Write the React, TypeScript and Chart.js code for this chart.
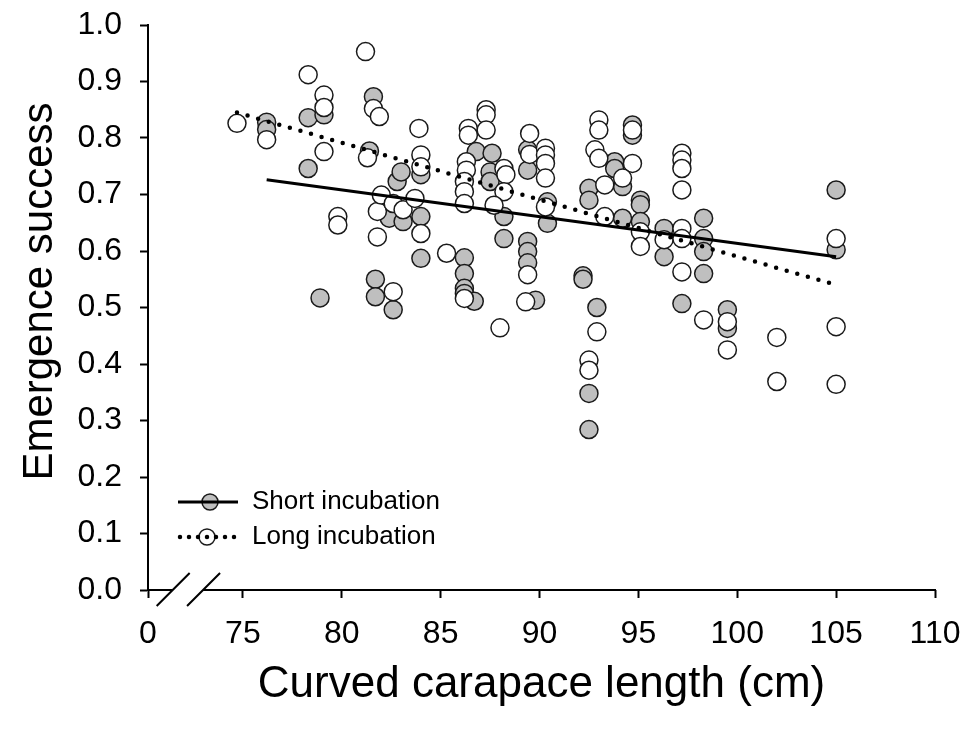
import React, { useEffect, useRef } from "react";
import { Chart, registerables } from "chart.js";

Chart.register(...registerables);

// ---- data ----
const shortLength = [
  76.2, 76.2, 78.3, 78.3, 79.1, 78.9, 81.6, 81.4, 81.7, 81.7, 82.4, 82.6, 82.8, 83.0, 83.1, 84.0,
  84.0, 84.0, 86.2, 86.2, 86.2, 86.2, 86.7, 86.8, 87.6, 87.5, 87.5, 88.2, 88.2, 89.4, 89.4, 89.4,
  89.4, 89.4, 89.8, 90.4, 90.4, 92.2, 92.2, 92.9, 92.5, 92.5, 92.5, 92.5, 93.8, 93.8, 94.2, 94.2,
  94.7, 94.7, 95.1, 95.1, 95.1, 96.3, 96.3, 97.2, 98.3, 98.3, 98.3, 98.3, 99.5, 99.5, 105.0, 105.0,
];
const shortSuccess = [
  0.828, 0.815, 0.836, 0.746, 0.841, 0.517, 0.873, 0.777, 0.55, 0.519, 0.658, 0.496, 0.723, 0.74, 0.652, 0.661,
  0.735, 0.587, 0.588, 0.56, 0.534, 0.525, 0.511, 0.776, 0.773, 0.74, 0.723, 0.661, 0.622, 0.779, 0.743, 0.617,
  0.599, 0.579, 0.513, 0.687, 0.649, 0.556, 0.55, 0.5, 0.348, 0.284, 0.711, 0.69, 0.758, 0.746, 0.714, 0.658,
  0.823, 0.805, 0.69, 0.682, 0.652, 0.64, 0.59, 0.507, 0.658, 0.622, 0.599, 0.56, 0.496, 0.463, 0.708, 0.602,
];
const longLength = [
  74.7, 76.2, 78.3, 79.1, 79.1, 79.1, 79.8, 79.8, 81.2, 81.3, 81.6, 81.9, 81.8, 81.8, 82.0, 82.6,
  83.1, 83.7, 82.6, 83.9, 84.0, 84.0, 84.0, 85.3, 86.4, 86.4, 86.3, 86.3, 86.2, 86.2, 86.2, 86.2,
  87.3, 87.3, 87.3, 88.2, 88.3, 88.2, 87.7, 88.0, 89.5, 89.5, 89.4, 89.3, 90.3, 90.3, 90.3, 90.3,
  90.3, 93.0, 93.0, 92.8, 93.0, 94.7, 94.2, 93.3, 93.3, 94.7, 95.1, 95.1, 92.9, 92.5, 92.5, 96.3,
  97.2, 97.2, 97.2, 97.2, 97.2, 97.2, 97.2, 98.3, 99.5, 99.5, 102.0, 102.0, 105.0, 105.0, 105.0,
];
const longSuccess = [
  0.826, 0.797, 0.912, 0.876, 0.854, 0.776, 0.661, 0.646, 0.953, 0.765, 0.852, 0.838, 0.67, 0.625, 0.699, 0.684,
  0.673, 0.693, 0.528, 0.817, 0.77, 0.749, 0.631, 0.596, 0.817, 0.805, 0.758, 0.743, 0.723, 0.705, 0.684, 0.516,
  0.85, 0.841, 0.814, 0.746, 0.735, 0.705, 0.681, 0.464, 0.808, 0.771, 0.558, 0.51, 0.782, 0.77, 0.755, 0.729,
  0.678, 0.832, 0.814, 0.779, 0.764, 0.755, 0.729, 0.717, 0.661, 0.814, 0.634, 0.608, 0.457, 0.407, 0.389, 0.62,
  0.773, 0.761, 0.746, 0.708, 0.64, 0.622, 0.563, 0.478, 0.475, 0.425, 0.447, 0.369, 0.622, 0.466, 0.364,
];
const shortFitLength = [76.2, 105.0];
const shortFitSuccess = [0.726, 0.59];
const longFitLength = [74.7, 105.0];
const longFitSuccess = [0.845, 0.54];

const xTickValues = [75, 80, 85, 90, 95, 100, 105, 110];
const X_BREAK_LABEL = "0";
const X_AXIS_START = 70.2; // where the "0" sits, left of the axis break
const Y_MIN = 0;
const Y_MAX = 1;
const Y_STEP = 0.1;

const legendLabels = ["Short incubation", "Long incubation"];
const xTitle = "Curved carapace length (cm)";
const yTitle = "Emergence success";

const FONT = "'Liberation Sans', Arial, sans-serif";
const GRAY = "#bfbfbf";
const EDGE = "#1a1a1a";

const pts = (xs: number[], ys: number[]) => xs.map((x, i) => ({ x, y: ys[i] }));

const axisBreak = {
  id: "axisBreak",
  afterDraw(chart: any) {
    const { ctx, chartArea, scales } = chart;
    const sx = scales.x;
    const y0 = chartArea.bottom;
    const start = sx.getPixelForValue(X_AXIS_START);
    const first = sx.getPixelForValue(xTickValues[0]);
    const gap = first - start;
    const s1 = start + gap * 0.26;
    const s2 = start + gap * 0.58;
    ctx.save();
    ctx.strokeStyle = "#000";
    ctx.lineWidth = 2;
    ctx.lineCap = "butt";
    ctx.beginPath();
    ctx.moveTo(start - 1, y0);
    ctx.lineTo(s1, y0);
    ctx.moveTo(s2, y0);
    ctx.lineTo(chartArea.right + 1, y0);
    ctx.stroke();
    ctx.beginPath();
    for (const c of [s1, s2]) {
      ctx.moveTo(c - 16, y0 + 16);
      ctx.lineTo(c + 17, y0 - 17);
    }
    ctx.stroke();
    ctx.restore();
  },
};

const yTitlePlugin = {
  id: "yTitlePlugin",
  afterDraw(chart: any) {
    const { ctx, chartArea } = chart;
    ctx.save();
    ctx.translate(40, (chartArea.top + chartArea.bottom) / 2 - 16);
    ctx.rotate(-Math.PI / 2);
    ctx.fillStyle = "#000";
    ctx.font = `42px ${FONT}`;
    ctx.textAlign = "center";
    ctx.textBaseline = "middle";
    ctx.fillText(yTitle, 0, 0);
    ctx.restore();
  },
};

const customLegend = {
  id: "customLegend",
  afterDraw(chart: any) {
    const { ctx, chartArea } = chart;
    const lx = chartArea.left;
    const rows = [chartArea.bottom - 88, chartArea.bottom - 53];
    ctx.save();
    // row 1: solid line + gray circle
    let y = rows[0];
    ctx.beginPath();
    ctx.arc(lx + 62, y, 8, 0, Math.PI * 2);
    ctx.fillStyle = GRAY;
    ctx.fill();
    ctx.lineWidth = 1.5;
    ctx.strokeStyle = EDGE;
    ctx.stroke();
    ctx.beginPath();
    ctx.moveTo(lx + 30, y);
    ctx.lineTo(lx + 90, y);
    ctx.lineWidth = 3;
    ctx.strokeStyle = "#000";
    ctx.stroke();
    // row 2: dotted line + white circle
    y = rows[1];
    ctx.beginPath();
    ctx.arc(lx + 59, y, 8, 0, Math.PI * 2);
    ctx.fillStyle = "#fff";
    ctx.fill();
    ctx.lineWidth = 1.5;
    ctx.strokeStyle = EDGE;
    ctx.stroke();
    ctx.beginPath();
    ctx.setLineDash([0, 9]);
    ctx.lineCap = "round";
    ctx.lineWidth = 4.5;
    ctx.strokeStyle = "#000";
    ctx.moveTo(lx + 32, y);
    ctx.lineTo(lx + 90, y);
    ctx.stroke();
    ctx.setLineDash([]);
    // text
    ctx.fillStyle = "#000";
    ctx.font = `26px ${FONT}`;
    ctx.textAlign = "left";
    ctx.textBaseline = "middle";
    ctx.fillText(legendLabels[0], lx + 104, rows[0]);
    ctx.fillText(legendLabels[1], lx + 104, rows[1]);
    ctx.restore();
  },
};

export default function App() {
  const ref = useRef<HTMLCanvasElement | null>(null);
  useEffect(() => {
    if (!ref.current) return;
    const chart = new Chart(ref.current, {
      type: "scatter",
      data: {
        datasets: [
          {
            label: "Short fit",
            data: pts(shortFitLength, shortFitSuccess),
            showLine: true,
            borderColor: "#000",
            borderWidth: 3,
            pointRadius: 0,
            order: 0,
          },
          {
            label: "Long fit",
            data: pts(longFitLength, longFitSuccess),
            showLine: true,
            borderColor: "#000",
            borderWidth: 4.5,
            borderDash: [0, 11],
            borderCapStyle: "round",
            pointRadius: 0,
            order: 1,
          },
          {
            label: legendLabels[1],
            data: pts(longLength, longSuccess),
            backgroundColor: "#fff",
            borderColor: EDGE,
            borderWidth: 1.5,
            pointRadius: 9,
            order: 2,
          },
          {
            label: legendLabels[0],
            data: pts(shortLength, shortSuccess),
            backgroundColor: GRAY,
            borderColor: EDGE,
            borderWidth: 1.5,
            pointRadius: 9,
            order: 3,
          },
        ] as any,
      },
      options: {
        animation: false,
        responsive: false,
        devicePixelRatio: 1,
        events: [],
        layout: { padding: { top: 25, right: 34, left: 0, bottom: 0 } },
        plugins: { legend: { display: false }, tooltip: { enabled: false } },
        scales: {
          x: {
            type: "linear",
            min: X_AXIS_START,
            max: xTickValues[xTickValues.length - 1],
            afterBuildTicks: (scale: any) => {
              scale.ticks = [X_AXIS_START, ...xTickValues].map((value) => ({ value }));
            },
            afterFit: (scale: any) => {
              scale.height = 139;
              scale.paddingLeft = 0;
              scale.paddingRight = 0;
            },
            border: { display: false },
            grid: {
              drawOnChartArea: false,
              drawTicks: true,
              tickLength: 8,
              tickWidth: 2,
              tickColor: "#000",
            },
            ticks: {
              autoSkip: false,
              maxRotation: 0,
              padding: 17,
              color: "#000",
              font: { family: FONT, size: 32 },
              callback: (v: any) => (v === X_AXIS_START ? X_BREAK_LABEL : String(v)),
            },
            title: {
              display: true,
              text: xTitle,
              color: "#000",
              font: { family: FONT, size: 44 },
              padding: { top: 0, bottom: 18 },
            },
          },
          y: {
            type: "linear",
            min: Y_MIN,
            max: Y_MAX,
            afterFit: (scale: any) => {
              scale.width = 148;
              scale.paddingTop = 0;
              scale.paddingBottom = 0;
            },
            border: { display: true, color: "#000", width: 2 },
            grid: {
              drawOnChartArea: false,
              drawTicks: true,
              tickLength: 8,
              tickWidth: 2,
              tickColor: "#000",
            },
            ticks: {
              stepSize: Y_STEP,
              padding: 18,
              color: "#000",
              font: { family: FONT, size: 32 },
              callback: (v: any) => Number(v).toFixed(1),
            },
            title: { display: false, text: yTitle },
          },
        },
      },
      plugins: [axisBreak, yTitlePlugin, customLegend],
    });
    return () => chart.destroy();
  }, []);
  return (
    <div style={{ position: "absolute", left: 0, top: 0, width: 969, height: 729, background: "#fff" }}>
      <canvas ref={ref} width={969} height={729} />
    </div>
  );
}
